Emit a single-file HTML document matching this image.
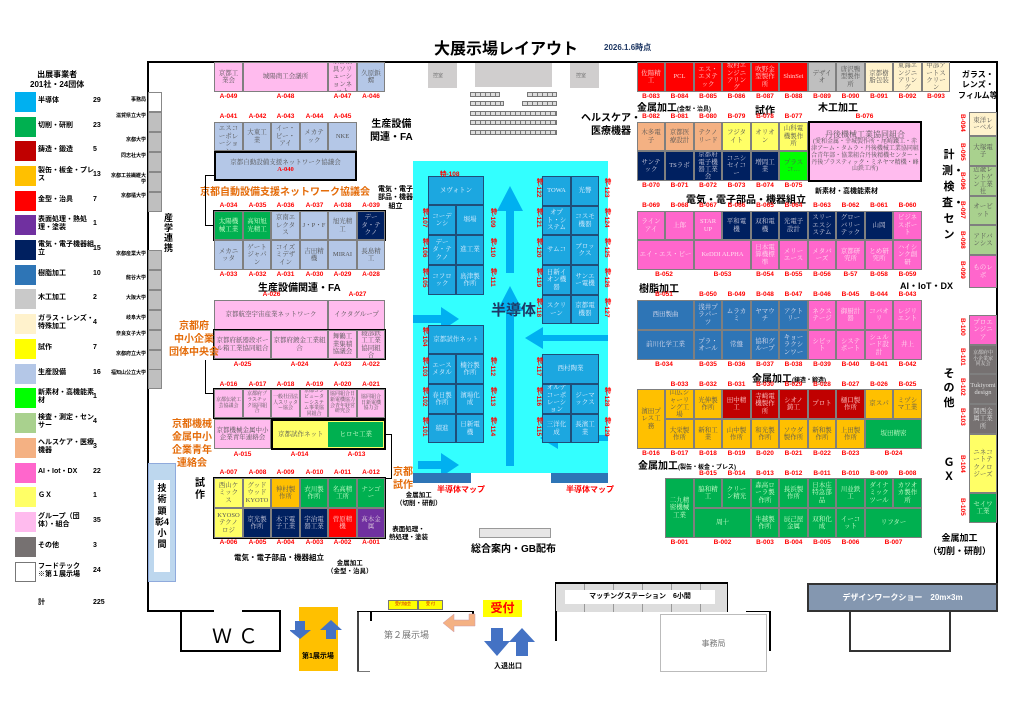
<!DOCTYPE html>
<html><head><meta charset="utf-8"><style>
*{box-sizing:border-box;margin:0;padding:0}
body{width:1024px;height:724px;position:relative;background:#fff;overflow:hidden;font-family:"Liberation Sans","Noto Sans CJK JP",sans-serif}
div{position:absolute}
.c{border:1px solid #7f7f7f;font:6.5px "Liberation Serif","Noto Serif CJK JP",serif;display:flex;align-items:center;justify-content:center;text-align:center;line-height:1.15;overflow:hidden;color:#555;padding:1px}
.l{font:bold 6.5px "Liberation Sans",sans-serif;color:#f00;text-align:center;white-space:nowrap}
.t{font-weight:bold;color:#000;white-space:nowrap;font-family:"Liberation Sans","Noto Sans CJK JP",sans-serif}
.o{color:#e46c0a;font-weight:bold;font-family:"Liberation Sans","Noto Sans CJK JP",sans-serif;text-align:center;line-height:1.3}
.th{border:2px solid #000}
.sb{background:#b4c7e7}.pk{background:#ffbbee}.gr{background:#00b050;color:#cfc}.nv{background:#002060;color:#ccd}
.yl{background:#ffff66}.or{background:#ffc000}.rd{background:#ff0000;color:#fcc}.dr{background:#c00000;color:#fcc}
.pu{background:#7030a0;color:#dcd}.bl{background:#2e75b6;color:#dde}.ai{background:#ff66cc;color:#fde}
.gy{background:#bfbfbf}.cr{background:#fff2cc}.sa{background:#f4b183}.lg{background:#a9d18e}.ng{background:#00ff00}
.sm{background:#1ca7e0;color:#def;border-color:#1f4e79}.dg{background:#767171;color:#ddd}
.v{writing-mode:vertical-rl;font:bold 6.5px "Liberation Sans",sans-serif;color:#f00;white-space:nowrap}
.sq{width:21px;height:20px;left:15px}
.lt{left:38px;font:bold 7px "Liberation Sans","Noto Sans CJK JP",sans-serif;line-height:1.2;width:58px}
.ln{left:93px;font:bold 7px "Liberation Sans",sans-serif}
.u{left:148px;width:14px;height:20px;background:#bfbfbf;border:1px solid #888}
.ul{left:110px;width:36px;font:bold 5px "Liberation Sans","Noto Sans CJK JP",sans-serif;text-align:right;line-height:1.1}
</style></head><body>

<div class="t" style="left:434px;top:35px;font-size:16px">大展示場レイアウト</div>
<div style="left:604px;top:42px;font:bold 8px 'Liberation Sans',sans-serif;color:#1f3864">2026.1.6時点</div>

<!-- legend -->
<div class="t" style="left:30px;top:70px;font-size:8px;text-align:center;line-height:1.2">出展事業者<br>201社・24団体</div>
<div class="sq" style="top:92px;background:#00b0f0"></div><div class="lt" style="top:97px">半導体</div><div class="ln" style="top:97px">29</div>
<div class="sq" style="top:117px;background:#00b050"></div><div class="lt" style="top:122px">切削・研削</div><div class="ln" style="top:122px">23</div>
<div class="sq" style="top:141px;background:#c00000"></div><div class="lt" style="top:146px">鋳造・鍛造</div><div class="ln" style="top:146px">5</div>
<div class="sq" style="top:166px;background:#ffc000"></div><div class="lt" style="top:167px">製缶・板金・プレス</div><div class="ln" style="top:171px">13</div>
<div class="sq" style="top:191px;background:#ff0000"></div><div class="lt" style="top:196px">金型・治具</div><div class="ln" style="top:196px">7</div>
<div class="sq" style="top:215px;background:#7030a0"></div><div class="lt" style="top:216px">表面処理・熱処理・塗装</div><div class="ln" style="top:220px">1</div>
<div class="sq" style="top:240px;background:#002060"></div><div class="lt" style="top:241px">電気・電子機器組立</div><div class="ln" style="top:245px">15</div>
<div class="sq" style="top:265px;background:#2e75b6"></div><div class="lt" style="top:270px">樹脂加工</div><div class="ln" style="top:270px">10</div>
<div class="sq" style="top:289px;background:#c9c9c9"></div><div class="lt" style="top:294px">木工加工</div><div class="ln" style="top:294px">2</div>
<div class="sq" style="top:314px;background:#fff2cc"></div><div class="lt" style="top:315px">ガラス・レンズ・特殊加工</div><div class="ln" style="top:319px">4</div>
<div class="sq" style="top:339px;background:#ffff00"></div><div class="lt" style="top:344px">試作</div><div class="ln" style="top:344px">7</div>
<div class="sq" style="top:364px;background:#b4c7e7"></div><div class="lt" style="top:369px">生産設備</div><div class="ln" style="top:369px">16</div>
<div class="sq" style="top:388px;background:#00ff00"></div><div class="lt" style="top:389px">新素材・高機能素材</div><div class="ln" style="top:393px">1</div>
<div class="sq" style="top:413px;background:#a9d18e"></div><div class="lt" style="top:414px">検査・測定・センサー</div><div class="ln" style="top:418px">4</div>
<div class="sq" style="top:438px;background:#f4b183"></div><div class="lt" style="top:439px">ヘルスケア・医療機器</div><div class="ln" style="top:443px">3</div>
<div class="sq" style="top:463px;background:#ff66cc"></div><div class="lt" style="top:468px">AI・Iot・DX</div><div class="ln" style="top:468px">22</div>
<div class="sq" style="top:487px;background:#ffff66"></div><div class="lt" style="top:492px">ＧＸ</div><div class="ln" style="top:492px">1</div>
<div class="sq" style="top:512px;background:#ffbbee"></div><div class="lt" style="top:513px">グループ（団体）・組合</div><div class="ln" style="top:517px">35</div>
<div class="sq" style="top:537px;background:#767171"></div><div class="lt" style="top:542px">その他</div><div class="ln" style="top:542px">3</div>
<div class="sq" style="top:562px;background:#fff;border:1px solid #777"></div><div class="lt" style="top:563px">フードテック<br>※第１展示場</div><div class="ln" style="top:567px">24</div>
<div class="lt" style="top:599px">計</div><div class="ln" style="top:599px">225</div>

<!-- walls -->
<div style="left:147px;top:61px;width:851px;height:2px;background:#000"></div>
<div style="left:147px;top:61px;width:2px;height:551px;background:#000"></div>
<div style="left:996px;top:61px;width:2px;height:551px;background:#000"></div>
<div style="left:147px;top:610px;width:67px;height:2px;background:#000"></div>
<div style="left:242px;top:610px;width:39px;height:2px;background:#000"></div>
<div style="left:180px;top:612px;width:101px;height:40px;border:2px solid #000;border-top:none"></div>
<div style="left:180px;top:612px;width:2px;height:40px;background:#000"></div>
<div class="t" style="left:212px;top:620px;font-size:20px;font-weight:normal;letter-spacing:6px">ＷＣ</div>

<!-- universities -->
<div class="u" style="top:92px;background:#fff"></div>
<div class="u" style="top:112px"></div><div class="u" style="top:132px"></div><div class="u" style="top:152px"></div><div class="u" style="top:172px"></div><div class="u" style="top:192px"></div>
<div class="u" style="top:250px"></div><div class="u" style="top:270px"></div><div class="u" style="top:290px"></div><div class="u" style="top:310px"></div><div class="u" style="top:330px"></div><div class="u" style="top:350px"></div><div class="u" style="top:369px"></div>
<div class="ul" style="top:98px">事務局</div><div class="ul" style="top:114px">滋賀県立大学</div><div class="ul" style="top:138px">京都大学</div><div class="ul" style="top:154px">同志社大学</div><div class="ul" style="top:174px">京都工芸繊維大学</div><div class="ul" style="top:194px">京都橘大学</div>
<div class="ul" style="top:252px">京都産業大学</div><div class="ul" style="top:276px">龍谷大学</div><div class="ul" style="top:296px">大阪大学</div><div class="ul" style="top:316px">岐阜大学</div><div class="ul" style="top:332px">奈良女子大学</div><div class="ul" style="top:352px">京都府立大学</div><div class="ul" style="top:371px">福知山公立大学</div>
<div class="t" style="left:164px;top:214px;font-size:9px;width:10px;white-space:normal;line-height:1.1">産学連携</div>

<!-- A section -->
<div class="c pk" style="left:214px;top:62px;width:29px;height:30px">京都工業会</div>
<div class="c pk" style="left:243px;top:62px;width:85px;height:30px">城陽商工会議所</div>
<div class="c pk" style="left:328px;top:62px;width:29px;height:30px">京都治具ソリューションネット</div>
<div class="c sb" style="left:357px;top:62px;width:28px;height:30px">久原鋲螺</div>
<div class="l" style="left:214px;top:93px;width:29px">A-049</div><div class="l" style="left:271px;top:93px;width:29px">A-048</div><div class="l" style="left:328px;top:93px;width:29px">A-047</div><div class="l" style="left:357px;top:93px;width:28px">A-046</div>
<div class="l" style="left:214px;top:113px;width:29px">A-041</div><div class="l" style="left:243px;top:113px;width:29px">A-042</div><div class="l" style="left:271px;top:113px;width:29px">A-043</div><div class="l" style="left:300px;top:113px;width:29px">A-044</div><div class="l" style="left:328px;top:113px;width:29px">A-045</div>
<div class="c sb" style="left:214px;top:122px;width:29px;height:29px">スリーエスコーポレーション</div>
<div class="c sb" style="left:243px;top:122px;width:28px;height:29px">大東工業</div>
<div class="c sb" style="left:271px;top:122px;width:29px;height:29px">イー・ピー・アイ</div>
<div class="c sb" style="left:300px;top:122px;width:28px;height:29px">メカテック</div>
<div class="c sb" style="left:328px;top:122px;width:29px;height:29px">NKE</div>
<div class="c sb th" style="left:214px;top:151px;width:143px;height:30px;flex-direction:column">京都自動設備支援ネットワーク協議会<span style="color:#f00;font-weight:bold">A-040</span></div>
<div class="t" style="left:370px;top:118px;font-size:10px;text-align:center;line-height:1.3">生産設備<br>関連・FA</div>
<div class="o" style="left:200px;top:186px;font-size:10px">京都自動設備支援ネットワーク協議会</div>
<div style="left:205px;top:175px;width:9px;height:1px;background:#000"></div><div style="left:205px;top:175px;width:1px;height:50px;background:#000"></div><div style="left:205px;top:225px;width:9px;height:1px;background:#000"></div>
<div class="l" style="left:214px;top:202px;width:29px">A-034</div><div class="l" style="left:243px;top:202px;width:29px">A-035</div><div class="l" style="left:271px;top:202px;width:29px">A-036</div><div class="l" style="left:300px;top:202px;width:29px">A-037</div><div class="l" style="left:328px;top:202px;width:29px">A-038</div><div class="l" style="left:357px;top:202px;width:28px">A-039</div>
<div class="t" style="left:378px;top:186px;font-size:7px;text-align:center;line-height:1.2">電気・電子<br>部品・機器<br>組立</div>
<div class="th" style="left:213px;top:210px;width:173px;height:31px"></div>
<div class="c gr" style="left:214px;top:211px;width:29px;height:29px">太陽機械工業</div>
<div class="c gr" style="left:243px;top:211px;width:28px;height:29px">高知旭光精工</div>
<div class="c sb" style="left:271px;top:211px;width:29px;height:29px">京南エレクタス</div>
<div class="c sb" style="left:300px;top:211px;width:28px;height:29px">J・P・F</div>
<div class="c sb" style="left:328px;top:211px;width:29px;height:29px">旭光精工</div>
<div class="c nv" style="left:357px;top:211px;width:28px;height:29px">データ・テクノ</div>
<div class="c sb" style="left:214px;top:240px;width:29px;height:30px">メカニッタ</div>
<div class="c sb" style="left:243px;top:240px;width:28px;height:30px">ゲートジャパン</div>
<div class="c sb" style="left:271px;top:240px;width:29px;height:30px">コイズミデザイン</div>
<div class="c sb" style="left:300px;top:240px;width:28px;height:30px">吉田精機</div>
<div class="c sb" style="left:328px;top:240px;width:29px;height:30px">MIRAI</div>
<div class="c sb" style="left:357px;top:240px;width:28px;height:30px">長島精工</div>
<div class="l" style="left:214px;top:271px;width:29px">A-033</div><div class="l" style="left:243px;top:271px;width:29px">A-032</div><div class="l" style="left:271px;top:271px;width:29px">A-031</div><div class="l" style="left:300px;top:271px;width:29px">A-030</div><div class="l" style="left:328px;top:271px;width:29px">A-029</div><div class="l" style="left:357px;top:271px;width:28px">A-028</div>
<div class="t" style="left:258px;top:279px;font-size:10px">生産設備関連・FA</div>
<div class="l" style="left:257px;top:291px;width:29px">A-026</div><div class="l" style="left:343px;top:291px;width:29px">A-027</div>
<div class="c pk" style="left:214px;top:300px;width:114px;height:30px">京都航空宇宙産業ネットワーク</div>
<div class="c pk" style="left:328px;top:300px;width:57px;height:30px">イクタグループ</div>
<div class="th" style="left:213px;top:329px;width:173px;height:31px"></div>
<div class="c pk" style="left:214px;top:330px;width:57px;height:29px">京都府紙器段ボール箱工業協同組合</div>
<div class="c pk" style="left:271px;top:330px;width:57px;height:29px">京都府鍍金工業組合</div>
<div class="c pk" style="left:328px;top:330px;width:29px;height:29px">舞鶴工業集積協議会</div>
<div class="c pk" style="left:357px;top:330px;width:28px;height:29px">綾部鉄工工業協同組合</div>
<div class="l" style="left:214px;top:361px;width:57px">A-025</div><div class="l" style="left:271px;top:361px;width:57px">A-024</div><div class="l" style="left:328px;top:361px;width:29px">A-023</div><div class="l" style="left:357px;top:361px;width:28px">A-022</div>
<div class="o" style="left:166px;top:320px;font-size:10px;width:56px">京都府<br>中小企業<br>団体中央会</div>
<div style="left:205px;top:360px;width:1px;height:34px;background:#000"></div><div style="left:205px;top:393px;width:9px;height:1px;background:#000"></div>
<div class="l" style="left:214px;top:381px;width:29px">A-016</div><div class="l" style="left:243px;top:381px;width:29px">A-017</div><div class="l" style="left:271px;top:381px;width:29px">A-018</div><div class="l" style="left:300px;top:381px;width:29px">A-019</div><div class="l" style="left:328px;top:381px;width:29px">A-020</div><div class="l" style="left:357px;top:381px;width:28px">A-021</div>
<div class="th" style="left:213px;top:388px;width:173px;height:31px"></div>
<div class="c pk" style="left:214px;top:389px;width:29px;height:29px;font-size:5px">京都伝統工芸協議会</div>
<div class="c pk" style="left:243px;top:389px;width:28px;height:29px;font-size:5px">京都府プラスチック協同組合</div>
<div class="c pk" style="left:271px;top:389px;width:29px;height:29px;font-size:5px">一般社団法人スリッター協会</div>
<div class="c pk" style="left:300px;top:389px;width:28px;height:29px;font-size:5px">京都コンピューターシステム事業協同組合</div>
<div class="c pk" style="left:328px;top:389px;width:29px;height:29px;font-size:5px">協同組合日新電機協力会青年経営研究会</div>
<div class="c pk" style="left:357px;top:389px;width:28px;height:29px;font-size:5px">協同組合日新電機協力会</div>
<div class="o" style="left:172px;top:418px;font-size:10px;width:40px">京都機械<br>金属中小<br>企業青年<br>連絡会</div>
<div class="c pk" style="left:214px;top:419px;width:57px;height:30px">京都機械金属中小企業青年連絡会</div>
<div class="c yl th" style="left:271px;top:419px;width:115px;height:31px;justify-content:flex-start;padding-left:0"><span style="width:57px">京都試作ネット</span><span style="width:56px;height:100%;background:#00b050;color:#cfc;display:flex;align-items:center;justify-content:center">ヒロセ工業</span></div>
<div class="l" style="left:214px;top:451px;width:57px">A-015</div><div class="l" style="left:271px;top:451px;width:57px">A-014</div><div class="l" style="left:328px;top:451px;width:57px">A-013</div>
<div style="left:386px;top:434px;width:6px;height:1px;background:#000"></div><div style="left:391px;top:434px;width:1px;height:45px;background:#000"></div><div style="left:386px;top:478px;width:6px;height:1px;background:#000"></div>
<div class="o" style="left:393px;top:466px;font-size:10px">京都<br>試作</div>
<div class="t" style="left:396px;top:492px;font-size:6.5px;text-align:center;line-height:1.2">金属加工<br>（切削・研削）</div>
<div class="t" style="left:389px;top:526px;font-size:6.5px;text-align:center;line-height:1.3">表面処理・<br>熱処理・塗装</div>
<div class="l" style="left:214px;top:469px;width:29px">A-007</div><div class="l" style="left:243px;top:469px;width:29px">A-008</div><div class="l" style="left:271px;top:469px;width:29px">A-009</div><div class="l" style="left:300px;top:469px;width:29px">A-010</div><div class="l" style="left:328px;top:469px;width:29px">A-011</div><div class="l" style="left:357px;top:469px;width:28px">A-012</div>
<div class="t" style="left:195px;top:478px;font-size:10px;width:12px;white-space:normal;line-height:1.2">試作</div>
<div class="th" style="left:213px;top:477px;width:173px;height:62px"></div>
<div class="c yl" style="left:214px;top:478px;width:29px;height:30px">西山ケミックス</div>
<div class="c yl" style="left:243px;top:478px;width:28px;height:30px">グッドウッドKYOTO</div>
<div class="c or" style="left:271px;top:478px;width:29px;height:30px">神村製作所</div>
<div class="c gr" style="left:300px;top:478px;width:28px;height:30px">衣川製作所</div>
<div class="c gr" style="left:328px;top:478px;width:29px;height:30px">名高精工所</div>
<div class="c gr" style="left:357px;top:478px;width:28px;height:30px">ナンゴー</div>
<div class="c yl" style="left:214px;top:508px;width:29px;height:30px">KYOSOテクノロジ</div>
<div class="c nv" style="left:243px;top:508px;width:28px;height:30px">京光製作所</div>
<div class="c nv" style="left:271px;top:508px;width:29px;height:30px">木下電子工業</div>
<div class="c nv" style="left:300px;top:508px;width:28px;height:30px">宇治電器工業</div>
<div class="c rd" style="left:328px;top:508px;width:29px;height:30px">菅原精機</div>
<div class="c pu" style="left:357px;top:508px;width:28px;height:30px">髙本金属</div>
<div class="l" style="left:214px;top:539px;width:29px">A-006</div><div class="l" style="left:243px;top:539px;width:29px">A-005</div><div class="l" style="left:271px;top:539px;width:29px">A-004</div><div class="l" style="left:300px;top:539px;width:29px">A-003</div><div class="l" style="left:328px;top:539px;width:29px">A-002</div><div class="l" style="left:357px;top:539px;width:28px">A-001</div>
<div class="t" style="left:234px;top:552px;font-size:7.5px">電気・電子部品・機器組立</div>
<div class="t" style="left:327px;top:560px;font-size:6.5px;text-align:center;line-height:1.3">金属加工<br>（金型・治具）</div>

<!-- 技術顕彰 -->
<div style="left:148px;top:463px;width:28px;height:119px;background:#bdd7ee;border:1px solid #8faadc"></div>
<div class="t" style="left:154px;top:480px;width:16px;height:92px;background:#fff;font-size:9px;white-space:normal;text-align:center;line-height:1.25;padding-top:3px">技術顕彰4小間</div>

<!-- top center -->
<div style="left:428px;top:63px;width:29px;height:25px;background:#d0cece"></div><div style="left:433px;top:72px;font-size:5px;color:#777">控室</div>
<div style="left:475px;top:63px;width:77px;height:24px;background:#d0cece"></div>
<div style="left:570px;top:63px;width:29px;height:25px;background:#d0cece"></div><div style="left:576px;top:72px;font-size:5px;color:#777">控室</div>
<div style="left:470px;top:92px;width:30px;height:5px;border:1px solid #777;background:repeating-linear-gradient(90deg,#ddd 0 4px,#777 4px 5px)"></div>
<div style="left:527px;top:92px;width:30px;height:5px;border:1px solid #777;background:repeating-linear-gradient(90deg,#ddd 0 4px,#777 4px 5px)"></div>
<div style="left:470px;top:101px;width:34px;height:5px;border:1px solid #777;background:repeating-linear-gradient(90deg,#ddd 0 4px,#777 4px 5px)"></div>
<div style="left:522px;top:101px;width:35px;height:5px;border:1px solid #777;background:repeating-linear-gradient(90deg,#ddd 0 4px,#777 4px 5px)"></div>
<div style="left:470px;top:111px;width:87px;height:5px;border:1px solid #777;background:repeating-linear-gradient(90deg,#ddd 0 4px,#777 4px 5px)"></div>
<div style="left:470px;top:120px;width:87px;height:5px;border:1px solid #777;background:repeating-linear-gradient(90deg,#ddd 0 4px,#777 4px 5px)"></div>
<div style="left:470px;top:130px;width:87px;height:5px;border:1px solid #777;background:repeating-linear-gradient(90deg,#ddd 0 4px,#777 4px 5px)"></div>
<div class="t" style="left:581px;top:112px;font-size:10px;text-align:center;line-height:1.3">ヘルスケア・<br>医療機器</div>

<!-- semiconductor -->
<div style="left:413px;top:161px;width:195px;height:312px;background:#33ffff"></div>
<svg style="position:absolute;left:413px;top:161px" width="195" height="312">
<g fill="#00b0f0">
<polygon points="93,112 93,50 84,50 97,25 110,50 101,50 101,112"/>
<polygon points="93,305 93,150 84,150 97,125 110,150 101,150 101,305"/>
<polygon points="0,154 28,154 28,146 46,158 28,170 28,162 0,162"/>
<polygon points="5,300 28,300 28,292 46,304 28,316 28,308 5,308"/>
<polygon points="195,180 130,180 130,188 112,177 130,166 130,174 195,174"/>
<polygon points="195,280 145,280 145,288 127,277 145,266 145,274 195,274"/>
</g></svg>
<div class="t" style="left:491px;top:299px;font-size:15px;color:#1f3864">半導体</div>
<div class="c sm" style="left:428px;top:176px;width:56px;height:29px">ヌヴォトン</div>
<div class="c sm" style="left:428px;top:205px;width:28px;height:30px">コーデンシ</div><div class="c sm" style="left:456px;top:205px;width:28px;height:30px">堀場</div>
<div class="c sm" style="left:428px;top:235px;width:28px;height:30px">データ・テクノ</div><div class="c sm" style="left:456px;top:235px;width:28px;height:30px">進工業</div>
<div class="c sm" style="left:428px;top:265px;width:28px;height:30px">コフロック</div><div class="c sm" style="left:456px;top:265px;width:28px;height:30px">島津製作所</div>
<div class="c sm" style="left:542px;top:176px;width:29px;height:30px">TOWA</div><div class="c sm" style="left:571px;top:176px;width:28px;height:30px">光響</div>
<div class="c sm" style="left:542px;top:206px;width:29px;height:29px">オプト・システム</div><div class="c sm" style="left:571px;top:206px;width:28px;height:29px">コスモ機器</div>
<div class="c sm" style="left:542px;top:235px;width:29px;height:30px">サムコ</div><div class="c sm" style="left:571px;top:235px;width:28px;height:30px">ブロックス</div>
<div class="c sm" style="left:542px;top:265px;width:29px;height:30px">日新イオン機器</div><div class="c sm" style="left:571px;top:265px;width:28px;height:30px">サンエー電機</div>
<div class="c sm" style="left:542px;top:295px;width:29px;height:29px">スクリーン</div><div class="c sm" style="left:571px;top:295px;width:28px;height:29px">京都電機器</div>
<div class="c sm" style="left:428px;top:325px;width:56px;height:29px">京都試作ネット</div>
<div class="c sm" style="left:428px;top:354px;width:28px;height:30px">エースメタル</div><div class="c sm" style="left:456px;top:354px;width:28px;height:30px">楠谷製作所</div>
<div class="c sm" style="left:428px;top:384px;width:28px;height:30px">春日製作所</div><div class="c sm" style="left:456px;top:384px;width:28px;height:30px">濱場化成</div>
<div class="c sm" style="left:428px;top:414px;width:28px;height:29px">積進</div><div class="c sm" style="left:456px;top:414px;width:28px;height:29px">日新電機</div>
<div class="c sm" style="left:542px;top:354px;width:57px;height:30px">西村陶業</div>
<div class="c sm" style="left:542px;top:384px;width:29px;height:30px">オルテコーポレーション</div><div class="c sm" style="left:571px;top:384px;width:28px;height:30px">ジーマックス</div>
<div class="c sm" style="left:542px;top:414px;width:29px;height:29px">三洋化成</div><div class="c sm" style="left:571px;top:414px;width:28px;height:29px">長濱工業</div>
<div class="l" style="left:440px;top:168px">特-108</div>
<div class="v" style="left:419px;top:208px">特-107</div><div class="v" style="left:419px;top:238px">特-106</div><div class="v" style="left:419px;top:268px">特-105</div>
<div class="v" style="left:487px;top:208px">特-109</div><div class="v" style="left:487px;top:238px">特-110</div><div class="v" style="left:487px;top:268px">特-111</div>
<div class="v" style="left:533px;top:178px">特-122</div><div class="v" style="left:533px;top:208px">特-121</div><div class="v" style="left:533px;top:238px">特-120</div><div class="v" style="left:533px;top:268px">特-119</div><div class="v" style="left:533px;top:298px">特-118</div>
<div class="v" style="left:601px;top:178px">特-123</div><div class="v" style="left:601px;top:208px">特-124</div><div class="v" style="left:601px;top:238px">特-125</div><div class="v" style="left:601px;top:268px">特-126</div><div class="v" style="left:601px;top:298px">特-127</div>
<div class="v" style="left:419px;top:327px">特-104</div><div class="v" style="left:419px;top:357px">特-103</div><div class="v" style="left:419px;top:387px">特-102</div><div class="v" style="left:419px;top:417px">特-101</div>
<div class="v" style="left:487px;top:357px">特-112</div><div class="v" style="left:487px;top:387px">特-113</div><div class="v" style="left:487px;top:417px">特-114</div>
<div class="v" style="left:533px;top:357px">特-117</div><div class="v" style="left:533px;top:387px">特-116</div><div class="v" style="left:533px;top:417px">特-115</div>
<div class="v" style="left:601px;top:387px">特-128</div><div class="v" style="left:601px;top:417px">特-129</div>
<div style="left:413px;top:473px;width:58px;height:10px;background:#2e75b6"></div>
<div style="left:551px;top:473px;width:57px;height:10px;background:#2e75b6"></div>
<div class="t" style="left:437px;top:484px;font-size:8px;color:#f00">半導体マップ</div>
<div class="t" style="left:566px;top:484px;font-size:8px;color:#f00">半導体マップ</div>
<div style="left:479px;top:528px;width:72px;height:10px;background:#e7e6e6;border:1px solid #999"></div>
<div class="t" style="left:471px;top:540px;font-size:10px">総合案内・GB配布</div>

<!-- B section -->
<div class="c rd" style="left:637px;top:62px;width:28px;height:30px">佐陽精工</div>
<div class="c rd" style="left:665px;top:62px;width:29px;height:30px">PCL</div>
<div class="c rd" style="left:694px;top:62px;width:28px;height:30px">エス・エヌテック</div>
<div class="c rd" style="left:722px;top:62px;width:29px;height:30px">坂村エンジニアリング</div>
<div class="c rd" style="left:751px;top:62px;width:28px;height:30px">吹野金型製作所</div>
<div class="c rd" style="left:779px;top:62px;width:29px;height:30px">ShinSei</div>
<div class="c gy" style="left:808px;top:62px;width:28px;height:30px">デザイオ</div>
<div class="c gy" style="left:836px;top:62px;width:29px;height:30px">唐沢鴨型製作所</div>
<div class="c cr" style="left:865px;top:62px;width:28px;height:30px">京都樹脂包装</div>
<div class="c cr" style="left:893px;top:62px;width:29px;height:30px">東海エンジニアリング</div>
<div class="c cr" style="left:922px;top:62px;width:28px;height:30px">中部アートスクリーン</div>
<div class="t" style="left:958px;top:70px;font-size:8px;line-height:1.3;text-align:center">ガラス・<br>レンズ・<br>フィルム等</div>
<div class="l" style="left:637px;top:93px;width:28px">B-083</div><div class="l" style="left:665px;top:93px;width:29px">B-084</div><div class="l" style="left:694px;top:93px;width:28px">B-085</div><div class="l" style="left:722px;top:93px;width:29px">B-086</div><div class="l" style="left:751px;top:93px;width:28px">B-087</div><div class="l" style="left:779px;top:93px;width:29px">B-088</div><div class="l" style="left:808px;top:93px;width:28px">B-089</div><div class="l" style="left:836px;top:93px;width:29px">B-090</div><div class="l" style="left:865px;top:93px;width:28px">B-091</div><div class="l" style="left:893px;top:93px;width:29px">B-092</div><div class="l" style="left:922px;top:93px;width:28px">B-093</div>
<div class="t" style="left:637px;top:99px;font-size:10px">金属加工<span style="font-size:6px">(金型・治具)</span></div>
<div class="t" style="left:755px;top:102px;font-size:10px">試作</div>
<div class="t" style="left:818px;top:99px;font-size:10px">木工加工</div>
<div class="l" style="left:637px;top:113px;width:28px">B-082</div><div class="l" style="left:665px;top:113px;width:29px">B-081</div><div class="l" style="left:694px;top:113px;width:28px">B-080</div><div class="l" style="left:722px;top:113px;width:29px">B-079</div><div class="l" style="left:751px;top:113px;width:28px">B-078</div><div class="l" style="left:779px;top:113px;width:29px">B-077</div><div class="l" style="left:850px;top:113px;width:29px">B-076</div>
<div class="c sa" style="left:637px;top:122px;width:28px;height:29px">木多電子</div>
<div class="c sa" style="left:665px;top:122px;width:29px;height:29px">京都医療設計</div>
<div class="c sa" style="left:694px;top:122px;width:28px;height:29px">テクノリード</div>
<div class="c yl" style="left:722px;top:122px;width:29px;height:29px">フジタイト</div>
<div class="c yl" style="left:751px;top:122px;width:28px;height:29px">オリオン</div>
<div class="c yl" style="left:779px;top:122px;width:29px;height:29px">山科電機製作所</div>
<div class="c pk th" style="left:808px;top:121px;width:114px;height:61px;flex-direction:column;font-size:6px"><span style="font-size:8px">丹後機械工業協同組合</span>(愛和金属・幸城製作所・尾崎鐵工・赤津アーム・タムラ・丹後機械工業協同組合青年部・協業組合丹後精機センター・丹後プラスティック・ミネヤマ精機・峰山鉄工所)</div>
<div class="c nv" style="left:637px;top:151px;width:28px;height:30px">サンテック</div>
<div class="c nv" style="left:665px;top:151px;width:29px;height:30px">TSラボ</div>
<div class="c nv" style="left:694px;top:151px;width:28px;height:30px">京都府電子機器工業会</div>
<div class="c nv" style="left:722px;top:151px;width:29px;height:30px">コニシセイコー</div>
<div class="c nv" style="left:751px;top:151px;width:28px;height:30px">増岡工業</div>
<div class="c ng" style="left:779px;top:151px;width:29px;height:30px">プラスコ…</div>
<div class="l" style="left:637px;top:182px;width:28px">B-070</div><div class="l" style="left:665px;top:182px;width:29px">B-071</div><div class="l" style="left:694px;top:182px;width:28px">B-072</div><div class="l" style="left:722px;top:182px;width:29px">B-073</div><div class="l" style="left:751px;top:182px;width:28px">B-074</div><div class="l" style="left:779px;top:182px;width:29px">B-075</div>
<div class="t" style="left:815px;top:186px;font-size:7px">新素材・高機能素材</div>
<div class="t" style="left:686px;top:191px;font-size:10px">電気・電子部品・機器組立</div>
<div class="l" style="left:637px;top:202px;width:28px">B-069</div><div class="l" style="left:665px;top:202px;width:29px">B-068</div><div class="l" style="left:694px;top:202px;width:28px">B-067</div><div class="l" style="left:722px;top:202px;width:29px">B-066</div><div class="l" style="left:751px;top:202px;width:28px">B-065</div><div class="l" style="left:779px;top:202px;width:29px">B-064</div><div class="l" style="left:808px;top:202px;width:28px">B-063</div><div class="l" style="left:836px;top:202px;width:29px">B-062</div><div class="l" style="left:865px;top:202px;width:28px">B-061</div><div class="l" style="left:893px;top:202px;width:29px">B-060</div>
<div class="c ai" style="left:637px;top:211px;width:28px;height:29px">ラインアイ</div>
<div class="c ai" style="left:665px;top:211px;width:29px;height:29px">上郎</div>
<div class="c ai" style="left:694px;top:211px;width:28px;height:29px">STAR UP</div>
<div class="c nv" style="left:722px;top:211px;width:29px;height:29px">平和電機</div>
<div class="c nv" style="left:751px;top:211px;width:28px;height:29px">双和電機</div>
<div class="c nv" style="left:779px;top:211px;width:29px;height:29px">光電子設計</div>
<div class="c nv" style="left:808px;top:211px;width:28px;height:29px">スリーエスシステム</div>
<div class="c nv" style="left:836px;top:211px;width:29px;height:29px">グローバリーテック</div>
<div class="c nv" style="left:865px;top:211px;width:28px;height:29px">山岡</div>
<div class="c ai" style="left:893px;top:211px;width:29px;height:29px">ビジネスポート</div>
<div class="c ai" style="left:637px;top:240px;width:57px;height:30px">エイ・エス・ピー</div>
<div class="c ai" style="left:694px;top:240px;width:57px;height:30px">KeDDI ALPHA</div>
<div class="c ai" style="left:751px;top:240px;width:28px;height:30px">日本電算機標準</div>
<div class="c ai" style="left:779px;top:240px;width:29px;height:30px">メリーエース</div>
<div class="c ai" style="left:808px;top:240px;width:28px;height:30px">メタバーズ</div>
<div class="c ai" style="left:836px;top:240px;width:29px;height:30px">京都研究所</div>
<div class="c ai" style="left:865px;top:240px;width:28px;height:30px">とめ研究所</div>
<div class="c ai" style="left:893px;top:240px;width:29px;height:30px">ハイシンク創研</div>
<div class="l" style="left:650px;top:271px;width:28px">B-052</div><div class="l" style="left:708px;top:271px;width:29px">B-053</div><div class="l" style="left:751px;top:271px;width:28px">B-054</div><div class="l" style="left:779px;top:271px;width:29px">B-055</div><div class="l" style="left:808px;top:271px;width:28px">B-056</div><div class="l" style="left:836px;top:271px;width:29px">B-57</div><div class="l" style="left:865px;top:271px;width:28px">B-058</div><div class="l" style="left:893px;top:271px;width:29px">B-059</div>
<div class="t" style="left:639px;top:280px;font-size:10px">樹脂加工</div>
<div class="t" style="left:900px;top:279px;font-size:9px">AI・IoT・DX</div>
<div class="l" style="left:650px;top:291px;width:28px">B-051</div><div class="l" style="left:694px;top:291px;width:28px">B-050</div><div class="l" style="left:722px;top:291px;width:29px">B-049</div><div class="l" style="left:751px;top:291px;width:28px">B-048</div><div class="l" style="left:779px;top:291px;width:29px">B-047</div><div class="l" style="left:808px;top:291px;width:28px">B-046</div><div class="l" style="left:836px;top:291px;width:29px">B-045</div><div class="l" style="left:865px;top:291px;width:28px">B-044</div><div class="l" style="left:893px;top:291px;width:29px">B-043</div>
<div class="c bl" style="left:637px;top:300px;width:57px;height:30px">西田製曲</div>
<div class="c bl" style="left:694px;top:300px;width:28px;height:30px">浅井プラパーツ</div>
<div class="c bl" style="left:722px;top:300px;width:29px;height:30px">ムラカミ</div>
<div class="c bl" style="left:751px;top:300px;width:28px;height:30px">ヤマウチ</div>
<div class="c bl" style="left:779px;top:300px;width:29px;height:30px">アクトリー</div>
<div class="c ai" style="left:808px;top:300px;width:28px;height:30px">ネクステージ</div>
<div class="c ai" style="left:836px;top:300px;width:29px;height:30px">御厨計器</div>
<div class="c ai" style="left:865px;top:300px;width:28px;height:30px">コバオリ</div>
<div class="c ai" style="left:893px;top:300px;width:29px;height:30px">レジリエント</div>
<div class="c bl" style="left:637px;top:330px;width:57px;height:30px">前川化学工業</div>
<div class="c bl" style="left:694px;top:330px;width:28px;height:30px">プラ・オール</div>
<div class="c bl" style="left:722px;top:330px;width:29px;height:30px">常盤</div>
<div class="c bl" style="left:751px;top:330px;width:28px;height:30px">協和グループ</div>
<div class="c bl" style="left:779px;top:330px;width:29px;height:30px">キョーラクシンワー</div>
<div class="c ai" style="left:808px;top:330px;width:28px;height:30px">シビット</div>
<div class="c ai" style="left:836px;top:330px;width:29px;height:30px">システポート</div>
<div class="c ai" style="left:865px;top:330px;width:28px;height:30px">シュルード設計</div>
<div class="c ai" style="left:893px;top:330px;width:29px;height:30px">井上</div>
<div class="l" style="left:650px;top:361px;width:28px">B-034</div><div class="l" style="left:694px;top:361px;width:28px">B-035</div><div class="l" style="left:722px;top:361px;width:29px">B-036</div><div class="l" style="left:751px;top:361px;width:28px">B-037</div><div class="l" style="left:779px;top:361px;width:29px">B-038</div><div class="l" style="left:808px;top:361px;width:28px">B-039</div><div class="l" style="left:836px;top:361px;width:29px">B-040</div><div class="l" style="left:865px;top:361px;width:28px">B-041</div><div class="l" style="left:893px;top:361px;width:29px">B-042</div>
<div class="t" style="left:752px;top:370px;font-size:10px">金属加工<span style="font-size:6px">(鋳造・鍛造)</span></div>
<div class="l" style="left:665px;top:381px;width:29px">B-033</div><div class="l" style="left:694px;top:381px;width:28px">B-032</div><div class="l" style="left:722px;top:381px;width:29px">B-031</div><div class="l" style="left:751px;top:381px;width:28px">B-030</div><div class="l" style="left:779px;top:381px;width:29px">B-029</div><div class="l" style="left:808px;top:381px;width:28px">B-028</div><div class="l" style="left:836px;top:381px;width:29px">B-027</div><div class="l" style="left:865px;top:381px;width:28px">B-026</div><div class="l" style="left:893px;top:381px;width:29px">B-025</div>
<div class="c or" style="left:637px;top:389px;width:28px;height:60px">濱田プレス工務</div>
<div class="c or" style="left:665px;top:389px;width:29px;height:30px">山広シャーリング工場</div>
<div class="c or" style="left:694px;top:389px;width:28px;height:30px">光伸製作所</div>
<div class="c dr" style="left:722px;top:389px;width:29px;height:30px">田中精工</div>
<div class="c dr" style="left:751px;top:389px;width:28px;height:30px">寺崎電機製作所</div>
<div class="c dr" style="left:779px;top:389px;width:29px;height:30px">シオノ鋳工</div>
<div class="c dr" style="left:808px;top:389px;width:28px;height:30px">プロト</div>
<div class="c dr" style="left:836px;top:389px;width:29px;height:30px">樋口製作所</div>
<div class="c or" style="left:865px;top:389px;width:28px;height:30px">京スパ</div>
<div class="c or" style="left:893px;top:389px;width:29px;height:30px">ミヅシマ工業</div>
<div class="c or" style="left:665px;top:419px;width:29px;height:30px">大栄製作所</div>
<div class="c or" style="left:694px;top:419px;width:28px;height:30px">新和工業</div>
<div class="c or" style="left:722px;top:419px;width:29px;height:30px">山中製作所</div>
<div class="c or" style="left:751px;top:419px;width:28px;height:30px">和光製作所</div>
<div class="c or" style="left:779px;top:419px;width:29px;height:30px">ソウダ製作所</div>
<div class="c or" style="left:808px;top:419px;width:28px;height:30px">新和製作所</div>
<div class="c or" style="left:836px;top:419px;width:29px;height:30px">上田製作所</div>
<div class="c gr" style="left:865px;top:419px;width:57px;height:30px">坂田精密</div>
<div class="l" style="left:637px;top:450px;width:28px">B-016</div><div class="l" style="left:665px;top:450px;width:29px">B-017</div><div class="l" style="left:694px;top:450px;width:28px">B-018</div><div class="l" style="left:722px;top:450px;width:29px">B-019</div><div class="l" style="left:751px;top:450px;width:28px">B-020</div><div class="l" style="left:779px;top:450px;width:29px">B-021</div><div class="l" style="left:808px;top:450px;width:28px">B-022</div><div class="l" style="left:836px;top:450px;width:29px">B-023</div><div class="l" style="left:879px;top:450px;width:29px">B-024</div>
<div class="t" style="left:638px;top:457px;font-size:10px">金属加工<span style="font-size:6px">(製缶・板金・プレス)</span></div>
<div class="l" style="left:694px;top:470px;width:28px">B-015</div><div class="l" style="left:722px;top:470px;width:29px">B-014</div><div class="l" style="left:751px;top:470px;width:28px">B-013</div><div class="l" style="left:779px;top:470px;width:29px">B-012</div><div class="l" style="left:808px;top:470px;width:28px">B-011</div><div class="l" style="left:836px;top:470px;width:29px">B-010</div><div class="l" style="left:865px;top:470px;width:28px">B-009</div><div class="l" style="left:893px;top:470px;width:29px">B-008</div>
<div class="c gr" style="left:665px;top:478px;width:29px;height:60px">二九精密機械工業</div>
<div class="c gr" style="left:694px;top:478px;width:28px;height:30px">脇和精工</div>
<div class="c gr" style="left:722px;top:478px;width:29px;height:30px">クリーン精光</div>
<div class="c gr" style="left:751px;top:478px;width:28px;height:30px">森高ローラ製作所</div>
<div class="c gr" style="left:779px;top:478px;width:29px;height:30px">長浜製作所</div>
<div class="c gr" style="left:808px;top:478px;width:28px;height:30px">日本庄特急部品</div>
<div class="c gr" style="left:836px;top:478px;width:29px;height:30px">川並鉄工</div>
<div class="c gr" style="left:865px;top:478px;width:28px;height:30px">ダイナミックツール</div>
<div class="c gr" style="left:893px;top:478px;width:29px;height:30px">カワオカ製作所</div>
<div class="c gr" style="left:694px;top:508px;width:57px;height:30px">周十</div>
<div class="c gr" style="left:751px;top:508px;width:28px;height:30px">牛越製作所</div>
<div class="c gr" style="left:779px;top:508px;width:29px;height:30px">辰己屋金属</div>
<div class="c gr" style="left:808px;top:508px;width:28px;height:30px">双和化成</div>
<div class="c gr" style="left:836px;top:508px;width:29px;height:30px">イーコット</div>
<div class="c gr" style="left:865px;top:508px;width:57px;height:30px">リフター</div>
<div class="l" style="left:665px;top:539px;width:29px">B-001</div><div class="l" style="left:708px;top:539px;width:29px">B-002</div><div class="l" style="left:751px;top:539px;width:28px">B-003</div><div class="l" style="left:779px;top:539px;width:29px">B-004</div><div class="l" style="left:808px;top:539px;width:28px">B-005</div><div class="l" style="left:836px;top:539px;width:29px">B-006</div><div class="l" style="left:879px;top:539px;width:29px">B-007</div>
<div class="t" style="left:928px;top:532px;font-size:9px;text-align:center;line-height:1.4">金属加工<br>（切削・研削）</div>

<!-- right column -->
<div class="c cr" style="left:969px;top:112px;width:28px;height:24px">東洋レーベル</div>
<div class="c lg" style="left:969px;top:136px;width:28px;height:30px">大塚電子</div>
<div class="c lg" style="left:969px;top:166px;width:28px;height:30px">近畿レントゲン工業社</div>
<div class="c lg" style="left:969px;top:196px;width:28px;height:29px">オービット</div>
<div class="c lg" style="left:969px;top:225px;width:28px;height:30px">アドバンシス</div>
<div class="c ai" style="left:969px;top:255px;width:28px;height:33px">ものレボ</div>
<div class="c ai" style="left:969px;top:315px;width:28px;height:30px">プロエンジニア</div>
<div class="c dg" style="left:969px;top:345px;width:28px;height:29px;font-size:5px">京都府中小企業家同友会</div>
<div class="c dg" style="left:969px;top:374px;width:28px;height:30px">Tukiyomi design</div>
<div class="c dg" style="left:969px;top:404px;width:28px;height:30px">関西金属工業所</div>
<div class="c yl" style="left:969px;top:434px;width:28px;height:59px">ニネコートテクノロジーズ</div>
<div class="c gr" style="left:969px;top:493px;width:28px;height:30px">セイワ工業</div>
<div class="v" style="left:959px;top:114px">B-094</div><div class="v" style="left:959px;top:143px">B-095</div><div class="v" style="left:959px;top:172px">B-096</div><div class="v" style="left:959px;top:201px">B-097</div><div class="v" style="left:959px;top:231px">B-098</div><div class="v" style="left:959px;top:261px">B-099</div>
<div class="v" style="left:959px;top:318px">B-100</div><div class="v" style="left:959px;top:348px">B-101</div><div class="v" style="left:959px;top:378px">B-102</div><div class="v" style="left:959px;top:408px">B-103</div><div class="v" style="left:959px;top:455px">B-104</div><div class="v" style="left:959px;top:498px">B-105</div>
<div class="t" style="left:942px;top:148px;font-size:11px;width:14px;white-space:normal;line-height:1.45;text-align:center">計測・検査・セン</div>
<div class="t" style="left:942px;top:367px;font-size:11px;width:14px;white-space:normal;line-height:1.3;text-align:center">その他</div>
<div class="t" style="left:942px;top:456px;font-size:11px;width:14px;white-space:normal;line-height:1.3;text-align:center">ＧＸ</div>

<!-- bottom area -->
<div style="left:299px;top:607px;width:39px;height:64px;background:#ffc000"></div>
<div class="t" style="left:302px;top:651px;font-size:7px">第1展示場</div>
<svg style="position:absolute;left:290px;top:618px" width="60" height="22"><polygon points="5,3 15,3 15,12 21,12 10,21 -1,12 5,12" fill="#4472c4"/><polygon points="46,21 36,21 36,12 30,12 41,2 52,12 46,12" fill="#4472c4"/></svg>
<div style="left:357px;top:612px;width:2px;height:60px;background:#444"></div>
<div style="left:357px;top:611px;width:115px;height:1px;background:#000"></div>
<div style="left:370px;top:611px;width:2px;height:10px;background:#000"></div>
<div style="left:384px;top:628px;font-size:9px;color:#777">第２展示場</div>
<div style="left:357px;top:671px;width:13px;height:1px;background:#777"></div>
<div style="left:388px;top:600px;width:30px;height:10px;background:#ffff00;border:1px solid #777;font-size:4px;color:#c00;text-align:center">受付協会</div>
<div style="left:418px;top:600px;width:25px;height:10px;background:#ffff00;border:1px solid #777;font-size:4px;color:#c00;text-align:center">受 付</div>
<div style="left:472px;top:611px;width:2px;height:8px;background:#000"></div>
<svg style="position:absolute;left:440px;top:612px" width="40" height="26"><path d="M35,2 L35,14 L14,14 L14,20 L3,11 L14,2 L14,8 L29,8 L29,2 Z" fill="#f4b183" stroke="#c9a" stroke-width="0.5"/></svg>
<div style="left:483px;top:600px;width:39px;height:17px;background:#ffff00;color:#f00;font:bold 12px 'Liberation Sans','Noto Sans CJK JP',sans-serif;text-align:center;line-height:17px">受付</div>
<svg style="position:absolute;left:483px;top:628px" width="60" height="30"><polygon points="8,0 20,0 20,13 27,13 14,28 1,13 8,13" fill="#4472c4"/><polygon points="33,28 45,28 45,14 52,14 39,0 26,14 33,14" fill="#4472c4"/></svg>
<div class="t" style="left:494px;top:661px;font-size:7px">入退出口</div>
<div style="left:555px;top:582px;width:173px;height:30px;border:1px solid #000;border-bottom:none;background:repeating-linear-gradient(90deg,#ddd 0 28px,#999 28px 29px);border-top:2px solid #000"></div>
<div style="left:565px;top:590px;width:150px;height:14px;background:#fff;font:bold 7px 'Liberation Sans','Noto Sans CJK JP',sans-serif;text-align:center;line-height:14px">マッチングステーション　6小間</div>
<div style="left:555px;top:611px;width:2px;height:30px;background:#000"></div>
<div style="left:660px;top:614px;width:107px;height:58px;border:1px solid #bbb;font-size:8px;color:#777;display:flex;align-items:center;justify-content:center">事務局</div>
<div style="left:746px;top:611px;width:24px;height:1px;background:#000"></div>
<div style="left:769px;top:611px;width:2px;height:40px;background:#000"></div>
<div style="left:807px;top:583px;width:191px;height:29px;background:#8497b0;border:2px solid #333;color:#fff;font:bold 8px 'Liberation Sans','Noto Sans CJK JP',sans-serif;text-align:center;line-height:25px">デザインワークショー　20m×3m</div>
<div style="left:849px;top:612px;width:102px;height:40px;border:2px solid #333;border-top:none"></div>
</body></html>
